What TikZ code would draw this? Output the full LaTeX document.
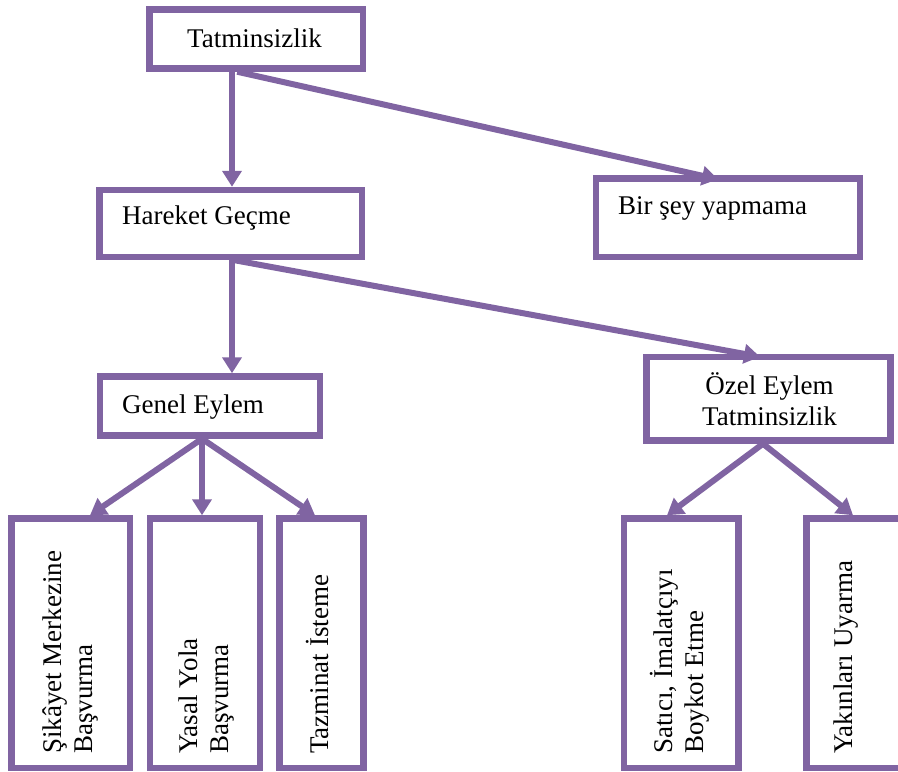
\documentclass[tikz,border=0pt]{standalone}
\usepackage{fontspec}
\setmainfont{Liberation Serif}
\usetikzlibrary{arrows.meta}
\definecolor{purp}{HTML}{8064A2}
\begin{document}
\begin{tikzpicture}[x=1pt,y=-1pt,
  box/.style={draw=purp, line width=6.5pt, rectangle, inner sep=0pt},
  lbl/.style={inner sep=0pt, font=\fontsize{27}{31}\selectfont, text=black},
  arr/.style={draw=purp, line width=6pt, -{Triangle[width=19pt,length=16pt]}}]
\clip (0,0) rectangle (898,772);
% boxes
\node[box, minimum width=213.5pt, minimum height=59pt] (tat) at (256.25,39) {};
\node[box, minimum width=262.5pt, minimum height=67pt] (har) at (230.75,223.5) {};
\node[box, minimum width=264pt, minimum height=78.5pt] (bir) at (728,217.75) {};
\node[box, minimum width=220pt, minimum height=59pt] (gen) at (210,406) {};
\node[box, minimum width=244pt, minimum height=83.5pt] (oze) at (768.5,398.75) {};
\node[box, minimum width=118.5pt, minimum height=249.5pt] (b1) at (70.75,643.25) {};
\node[box, minimum width=110pt, minimum height=249.5pt] (b2) at (205,643.25) {};
\node[box, minimum width=84pt, minimum height=249.5pt] (b3) at (321.5,643.25) {};
\node[box, minimum width=114.5pt, minimum height=249.5pt] (b4) at (681.25,643.25) {};
\node[box, minimum width=113pt, minimum height=249.5pt] (b5) at (863,643.25) {};
% texts
\node[lbl, anchor=base west] (tatT) at (187,47) {Tatminsizlik};
\node[lbl, anchor=base west] (harT) at (122,224) {Hareket Geçme};
\node[lbl, anchor=base west] (birT) at (618,214) {Bir şey yapmama};
\node[lbl, anchor=base west] (genT) at (122,413) {Genel Eylem};
\node[lbl, anchor=base, align=center] (ozeT) at (769.5,425) {Özel Eylem\\Tatminsizlik};
\node[lbl, rotate=90, anchor=base west, align=left] (b1T) at (92,754) {Şikâyet Merkezine\\Başvurma};
\node[lbl, rotate=90, anchor=base west, align=left] (b2T) at (228,754) {Yasal Yola\\Başvurma};
\node[lbl, rotate=90, anchor=base west, align=left] (b3T) at (328,754) {Tazminat İsteme};
\node[lbl, rotate=90, anchor=base west, align=left] (b4T) at (703,754) {Satıcı, İmalatçıyı\\Boykot Etme};
\node[lbl, rotate=90, anchor=base west, align=left] (b5T) at (852,754) {Yakınları Uyarma};
% arrows
\draw[arr] ([xshift=-24.25pt]tat.south) -- ([xshift=1.25pt]har.north);
\draw[arr] ([xshift=-19pt]tat.south) -- ([xshift=-10pt,yshift=-4pt]bir.north);
\draw[arr] ([xshift=1.25pt]har.south) -- ([xshift=22pt]gen.north);
\draw[arr] ([xshift=4pt]har.south) -- ([xshift=-8.5pt,yshift=-3pt]oze.north);
\draw[arr] ([xshift=-8pt]gen.south) -- ([xshift=19.25pt]b1.north);
\draw[arr] ([xshift=-8pt]gen.south) -- ([xshift=-3pt]b2.north);
\draw[arr] ([xshift=-8pt]gen.south) -- ([xshift=-6.5pt]b3.north);
\draw[arr] ([xshift=-5.5pt]oze.south) -- ([xshift=-14.25pt]b4.north);
\draw[arr] ([xshift=-5.5pt]oze.south) -- ([xshift=-10pt]b5.north);
\end{tikzpicture}
\end{document}
